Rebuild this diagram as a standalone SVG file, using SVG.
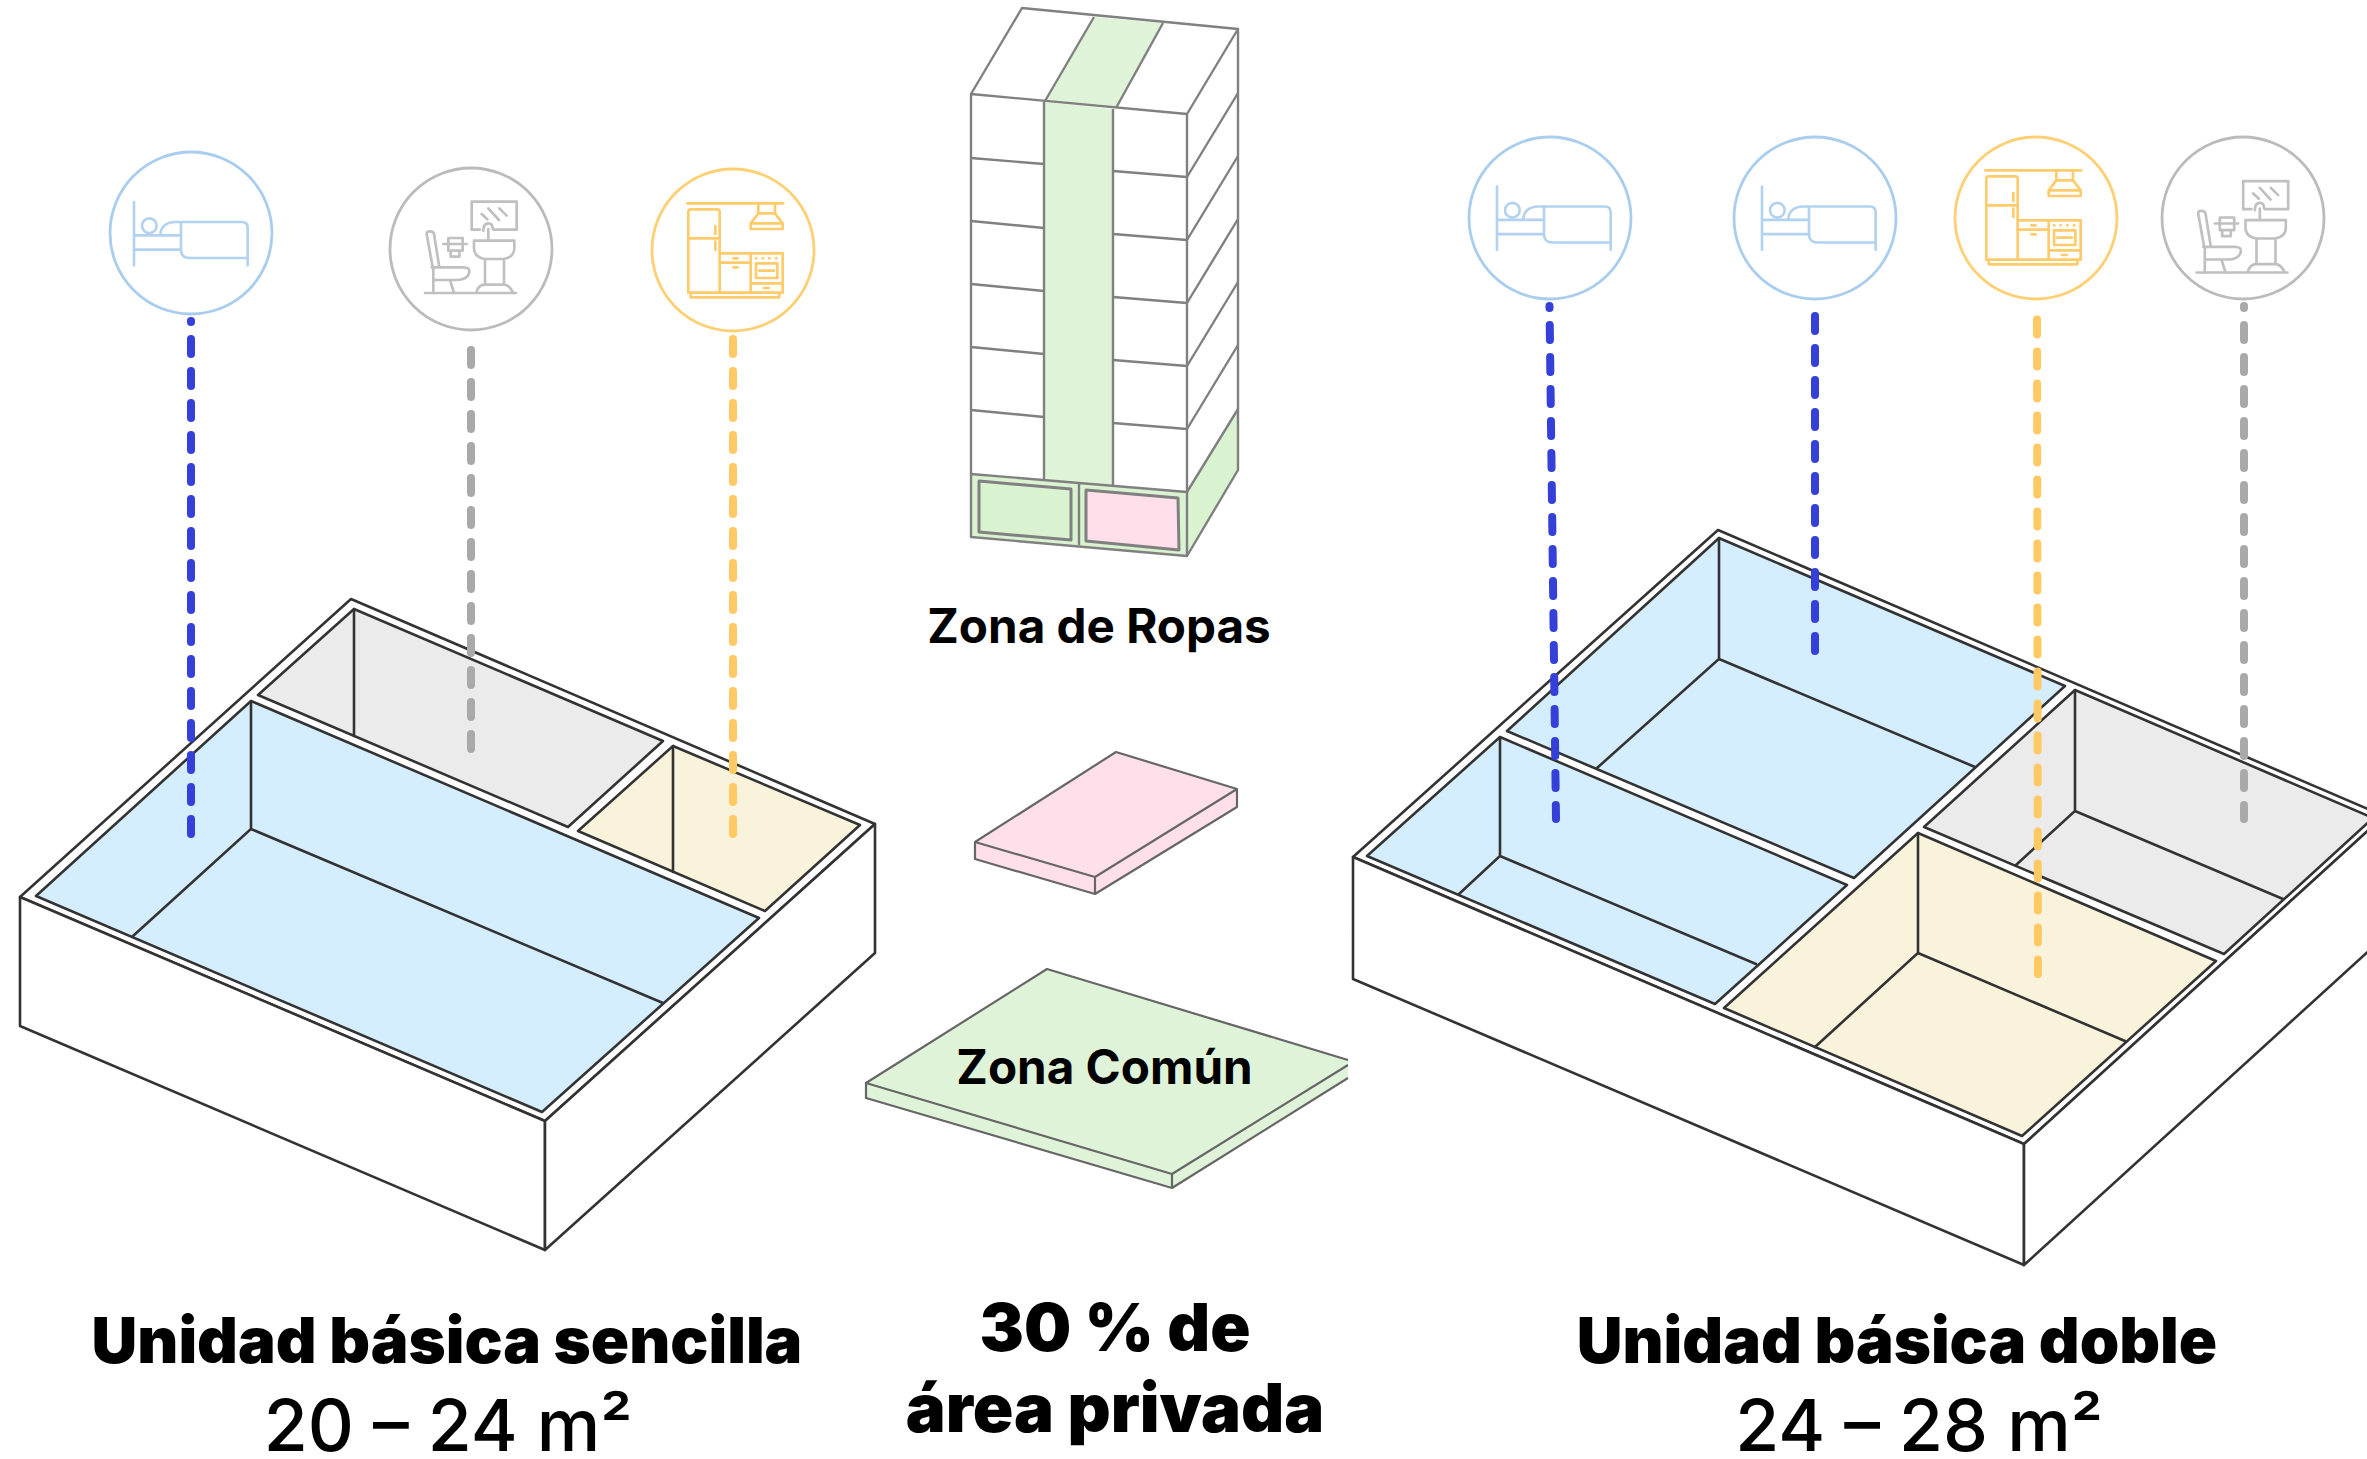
<svg xmlns="http://www.w3.org/2000/svg" width="2367" height="1459" viewBox="0 0 2367 1459">
<style>
.box{fill:#fff;stroke:#333;stroke-width:2.6;stroke-linejoin:round}
.ln{fill:none;stroke:#333;stroke-width:2.6;stroke-linecap:round}
.blue{fill:#d5eeff}.gray{fill:#ebebeb}.yel{fill:#faf3dc}
.tw{fill:none;stroke:#808080;stroke-width:2.4;stroke-linejoin:round}
.gr{fill:#dff3d8}.gr2{fill:#d9f2d0}.pk{fill:#ffe0ea}
.slab{fill:none;stroke:#666;stroke-width:2.2;stroke-linejoin:round}
.ci{fill:#fff;stroke-width:2.8}
.cb{stroke:#a9cdee}.cg{stroke:#bbbbbb}.cy{stroke:#ffcf73}
.ic{fill:none;stroke-width:8;stroke-linecap:round;stroke-linejoin:round}
.dash{fill:none;stroke-width:8;stroke-linecap:round;stroke-dasharray:15 17}
.t{font-family:Inter,"Liberation Sans",sans-serif;fill:#000}
.h{font-weight:900}
.s{font-weight:500;font-size:71.500px}
.l{font-weight:700;font-size:47.600px}
</style>
<defs>
<g id="bed" class="ic" stroke="#b3d2ef" transform="scale(0.3333) translate(-272,-265)">
<path d="M101 172V362M101 272H242M101 315H242M180 272C180 245 200 232 225 232H425Q442 232 442 250V362M242 232V315Q242 340 268 340H442"/>
<circle cx="147" cy="243" r="22"/>
</g>
<g id="bath" class="ic" stroke="#c0c0c0" transform="scale(0.3333) translate(-273,-265)">
<path d="M300 207H275V123H410V207H340M305 160L322 176M325 143L357 178M358 143L380 165M310 210Q310 188 325 188Q338 188 338 205M325 205V240M282 240H403V262Q403 290 370 295H315Q282 290 282 262ZM315 295V372M372 295V372M288 397Q295 372 315 372H372Q388 372 400 397M135 397H408"/>
<path d="M158 320L140 220Q140 212 150 212Q160 212 162 220L178 320M155 320H250Q270 320 268 335Q262 358 230 358H160M160 320V397M210 358L222 397M190 250H260M205 232H248V270H205ZM212 270H238V288H212Z"/>
</g>
<g id="kit" class="ic" stroke="#ffcb6b" transform="scale(0.3333) translate(-279,-270)">
<path d="M142 130H430M355 130V160L332 190V207H428V190L405 160V130M355 160H405M332 190H428M145 398V155Q145 148 152 148H232Q239 148 239 155V398M145 235H239M226 198V222M226 245V270"/>
<path d="M239 280H428V398M239 308H332M332 280V398M335 370H428M348 295H349M368 295H369M388 295H389M408 295H409M348 310H412V354H348ZM358 332H402M280 295H293M280 322H293M372 384H386M145 398H428M152 398V412H418V398"/>
</g>
</defs>
<rect width="2367" height="1459" fill="#fff"/>

<g id="box-sencilla">
<polygon class="box" points="351,599 875,824 545,1121 20,897"/>
<polygon class="box" points="20,897 545,1121 545,1250 20,1026"/>
<polygon class="box" points="545,1121 875,824 875,953 545,1250"/>
<polygon class="box gray" points="258,695 354,609 663,741 568,827"/>
<polygon class="box yel" points="578,831 673,746 860,825 765,911"/>
<polygon class="box blue" points="36,896 251,701 759,918 542,1112"/>
<path class="ln" d="M354 609V736M673 746V872M251 701V829L133 936M251 829L663 1003"/>
</g>

<g id="box-doble">
<polygon class="box" points="1718,530 2384,816 2024,1144 1353,857"/>
<polygon class="box" points="1353,857 2024,1144 2024,1265 1353,979"/>
<polygon class="box" points="2024,1144 2384,816 2384,937 2024,1265"/>
<polygon class="box blue" points="1507,731 1719,538 2065,686 1854,878"/>
<polygon class="box blue" points="1367,856 1500,737 1847,885 1715,1004"/>
<polygon class="box gray" points="1924,827 2075,690 2373,818 2224,954"/>
<polygon class="box yel" points="1724,1008 1918,833 2216,961 2022,1136"/>
<path class="ln" d="M1719 538V659L1597 768M1719 659L1975 767M1500 737V856L1459 894M1500 856L1756 964M2075 690V811L2016 865M2075 811L2283 899M1918 833V953L1815 1047M1918 953L2125 1041"/>
</g>

<g id="tower">
<polygon fill="#fff" points="1022,8 1238,29 1238,470 1187,556 971,537 971,94"/>
<polygon class="gr" points="1094,17 1163,23 1116,108 1045,101"/>
<polygon class="gr" points="1044,102 1113,109 1113,485 1044,480"/>
<polygon class="gr2" points="971,474 1187,492 1187,556 971,537"/>
<polygon class="gr2" points="1187,492 1238,409 1238,470 1187,556"/>
<polygon class="gr2" points="978,480 1071,488 1071,540 978,532"/>
<polygon class="pk" points="1086,489 1178,497 1179,550 1086,540"/>
<path class="tw" d="M1022 8L1238 29V470L1187 556L971 537V94ZM971 94L1187 114V556M1022 8L971 94M1238 29L1187 114M1094 17L1045 101M1163 23L1116 108M1044 102V480M1113 109V485"/>
<path class="tw" d="M971 158L1044 164M971 221L1044 228M971 284L1044 291M971 347L1044 354M971 410L1044 417M971 474L1187 492M1113 171L1187 177M1113 234L1187 240M1113 297L1187 303M1113 360L1187 366M1113 423L1187 429M1187 177L1238 93M1187 240L1238 156M1187 303L1238 219M1187 366L1238 282M1187 429L1238 345M1187 492L1238 409M1079 483V545"/>
<path class="tw" style="stroke-width:3" d="M979 481L1071 489V540L979 532ZM1086 490L1178 498L1179 550L1086 541Z"/>
</g>

<g id="slab-ropas">
<polygon class="pk" points="1116,752 1237,789 1237,807 1095,894 975,859 975,842"/>
<path class="slab" d="M1116 752L1237 789V807L1095 894L975 859V842ZM975 842L1095 877L1237 789M1095 877V894"/>
</g>

<g id="slab-comun">
<polygon class="gr" points="1047,969 1348,1060 1348,1078 1172,1188 866,1098 866,1083"/>
<path class="slab" d="M1348 1060L1047 969L866 1083V1098L1172 1188L1348 1078M866 1083L1172 1174L1348 1065M1172 1174V1188"/>
</g>

<g id="node-bed-1"><circle class="ci cb" cx="191" cy="233" r="81"/><use href="#bed" x="191" y="233"/></g>
<g id="node-bath-1"><circle class="ci cg" cx="471" cy="249" r="81"/><use href="#bath" x="471" y="249"/></g>
<g id="node-kit-1"><circle class="ci cy" cx="733" cy="250" r="81"/><use href="#kit" x="733" y="250"/></g>
<g id="node-bed-2"><circle class="ci cb" cx="1550" cy="218" r="81"/><use href="#bed" x="1554" y="217.500"/></g>
<g id="node-bed-3"><circle class="ci cb" cx="1815" cy="218" r="81"/><use href="#bed" x="1819" y="217.500"/></g>
<g id="node-kit-2"><circle class="ci cy" cx="2036" cy="218" r="81"/><use href="#kit" x="2031" y="217"/></g>
<g id="node-bath-2"><circle class="ci cg" cx="2243" cy="218" r="81"/><use href="#bath" x="2242.500" y="228.500"/></g>

<g id="connectors">
<path class="dash" stroke="#3440d8" stroke-dashoffset="14" d="M191 321V835"/>
<path class="dash" stroke="#a9a9a9" d="M471 350V750"/>
<path class="dash" stroke="#ffc964" d="M733 339V835"/>
<path class="dash" stroke="#3440d8" stroke-dashoffset="13" d="M1549.500 306L1556 819"/>
<path class="dash" stroke="#3440d8" d="M1815 316V651"/>
<path class="dash" stroke="#ffc964" d="M2037 319.500L2038 974"/>
<path class="dash" stroke="#a9a9a9" stroke-dashoffset="13" d="M2244 306V819"/>
</g>

<g id="labels">
<text class="t l" x="1099" y="643" text-anchor="middle">Zona de Ropas</text>
<text class="t l" x="1104.500" y="1084" text-anchor="middle">Zona Común</text>
<text class="t h" font-size="63.300" x="447" y="1363" text-anchor="middle">Unidad básica sencilla</text>
<text class="t s" x="448" y="1451" text-anchor="middle">20 – 24 m²</text>
<text class="t h" font-size="66.500" x="1115" y="1351" text-anchor="middle">30 % de</text>
<text class="t h" font-size="67" x="1115" y="1432" text-anchor="middle">área privada</text>
<text class="t h" font-size="63.300" x="1897" y="1363" text-anchor="middle">Unidad básica doble</text>
<text class="t s" x="1919" y="1451" text-anchor="middle">24 – 28 m²</text>
</g>
</svg>
